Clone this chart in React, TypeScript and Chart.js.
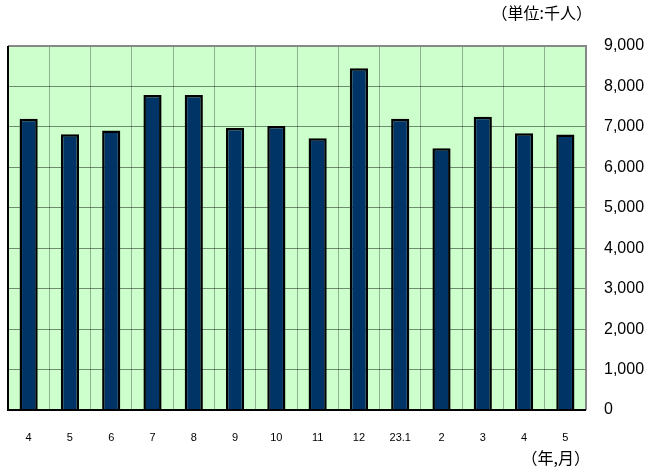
import React, { useEffect, useRef } from "react";
import { Chart, registerables } from "chart.js";

Chart.register(...registerables);

const categories = ["4", "5", "6", "7", "8", "9", "10", "11", "12", "23.1", "2", "3", "4", "5"];
const values = [7200, 6820, 6910, 7790, 7790, 6970, 7020, 6720, 8450, 7200, 6470, 7250, 6840, 6810];
const yTicks = [0, 1000, 2000, 3000, 4000, 5000, 6000, 7000, 8000, 9000];
const unitLabel = "（単位:千人）";
const axisLabel = "（年,月）";

const framePlugin = {
  id: "frame",
  beforeDraw(chart: any) {
    const { ctx, chartArea } = chart;
    ctx.save();
    ctx.fillStyle = "#CCFFCC";
    ctx.fillRect(chartArea.left, chartArea.top, chartArea.right - chartArea.left, chartArea.bottom - chartArea.top);
    ctx.restore();
  },
  afterDraw(chart: any) {
    const { ctx, chartArea } = chart;
    ctx.save();
    ctx.strokeStyle = "#888888";
    ctx.lineWidth = 2;
    ctx.beginPath();
    ctx.moveTo(chartArea.left, chartArea.top);
    ctx.lineTo(chartArea.right, chartArea.top);
    ctx.lineTo(chartArea.right, chartArea.bottom);
    ctx.stroke();
    ctx.strokeStyle = "#000000";
    ctx.beginPath();
    ctx.moveTo(chartArea.left, chartArea.top);
    ctx.lineTo(chartArea.left, chartArea.bottom);
    ctx.lineTo(chartArea.right, chartArea.bottom);
    ctx.stroke();
    ctx.fillStyle = "#000";
    ctx.font = '16px "Noto Sans CJK JP"';
    ctx.textBaseline = "middle";
    ctx.textAlign = "right";
    ctx.fillText(unitLabel, chartArea.right + 6, 13);
    ctx.fillText(axisLabel, chartArea.right + 4, 458);
    ctx.restore();
  },
};

export default function App() {
  const ref = useRef<HTMLCanvasElement>(null);
  useEffect(() => {
    document.body.style.margin = "0";
    const chart = new Chart(ref.current!, {
      type: "bar",
      data: {
        labels: categories,
        datasets: [
          {
            data: values,
            backgroundColor: "#003366",
            borderColor: "#000000",
            borderWidth: 2.5,
            barPercentage: 0.44,
            categoryPercentage: 1,
          },
        ],
      },
      options: {
        animation: false,
        responsive: false,
        layout: { padding: { left: 8, top: 46, right: 0, bottom: 0 } },
        plugins: { legend: { display: false }, tooltip: { enabled: false } },
        scales: {
          x: {
            grid: { color: "rgba(0,0,0,0.3)", offset: true, drawTicks: false },
            border: { display: false },
            ticks: { color: "#000", font: { family: "Liberation Sans", size: 11 }, padding: 21, maxRotation: 0, autoSkip: false },
            afterFit(scale: any) { scale.height = 63; },
          },
          y: {
            position: "right",
            min: 0,
            max: 9000,
            afterBuildTicks(scale: any) { scale.ticks = yTicks.map((v) => ({ value: v })); },
            grid: { color: "rgba(0,0,0,0.45)", drawTicks: false },
            border: { display: false },
            ticks: {
              color: "#000",
              font: { family: "Liberation Sans", size: 16 },
              padding: 18,
              callback: (v: any) => Number(v).toLocaleString("en-US"),
            },
            afterFit(scale: any) { scale.width = 70; },
          },
        },
      },
      plugins: [framePlugin],
    });
    return () => chart.destroy();
  }, []);
  return (
    <div style={{ width: 656, height: 473 }}>
      <canvas ref={ref} width={656} height={473} style={{ display: "block" }} />
    </div>
  );
}
